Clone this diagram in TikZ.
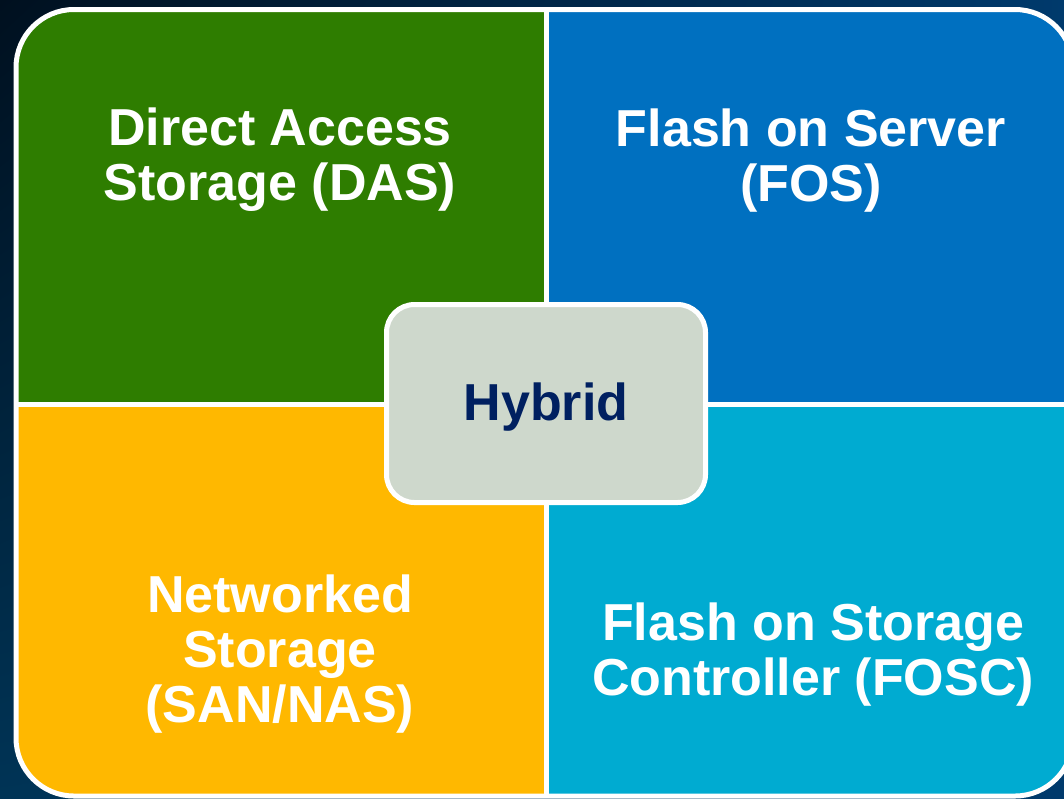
\documentclass[tikz,border=0pt]{standalone}
\usepackage{fontspec}
\usetikzlibrary{shadings}
\setmainfont{Liberation Sans}
\definecolor{bgdark}{HTML}{00101F}
\definecolor{bgnavyA}{HTML}{003A6C}
\definecolor{bgnavyB}{HTML}{003456}
\definecolor{dasgreen}{HTML}{2E7D00}
\definecolor{fosblue}{HTML}{0070C0}
\definecolor{sanyellow}{HTML}{FFB800}
\definecolor{fosccyan}{HTML}{00ABD1}
\definecolor{hybridfill}{HTML}{CED8CC}
\definecolor{hybridtext}{HTML}{002060}
\tikzset{
  label/.style={align=center, text=white, inner sep=0pt,
    font=\fontsize{52}{55}\selectfont\bfseries},
  divider/.style={draw=white, line width=5pt},
  hybridbox/.style={draw=white, line width=5pt, fill=hybridfill,
    rounded corners=28pt, minimum width=319pt, minimum height=198pt,
    inner sep=0pt, text=hybridtext,
    font=\fontsize{52}{55}\selectfont\bfseries},
}
\begin{document}
\begin{tikzpicture}[x=1pt, y=-1pt]
  \useasboundingbox (0,0) rectangle (1064,798);
  % backdrop
  \shade[upper left=bgdark, upper right=bgnavyA, lower left=bgnavyB,
         lower right=bgnavyA] (0,0) rectangle (1064,798);
  % four quadrants inside the rounded frame
  \begin{scope}
    \clip[rounded corners=58pt] (16,9.5) rectangle (1073,796);
    \fill[dasgreen]  (0,0)     rectangle (546,404);
    \fill[fosblue]   (546,0)   rectangle (1100,404);
    \fill[sanyellow] (0,404)   rectangle (546,800);
    \fill[fosccyan]  (546,404) rectangle (1100,800);
    \coordinate (vtop) at (546,0);
    \coordinate (vbot) at (546,800);
    \coordinate (hleft) at (0,404);
    \coordinate (hright) at (1100,404);
    \draw[divider] (vtop) -- (vbot);
    \draw[divider] (hleft) -- (hright);
  \end{scope}
  \draw[divider, rounded corners=58pt] (16,9.5) rectangle (1073,796);
  % quadrant labels (base anchor sits on the last line)
  \node[label, anchor=base] (das)  at (280,200.5) {Direct Access\\Storage (DAS)};
  \node[label, anchor=base] (fos)  at (811,201) {Flash on Server\\(FOS)};
  \node[label, anchor=base] (san)  at (280,722) {Networked\\Storage\\(SAN/NAS)};
  \node[label, anchor=base] (fosc) at (813,695) {Flash on Storage\\Controller (FOSC)};
  % centre box
  \node[hybridbox] (hybrid) at (546,403.5) {};
  \node[text=hybridtext, inner sep=0pt, anchor=base,
        font=\fontsize{52}{55}\selectfont\bfseries] (hybridlabel) at (546,420) {Hybrid};
\end{tikzpicture}
\end{document}
